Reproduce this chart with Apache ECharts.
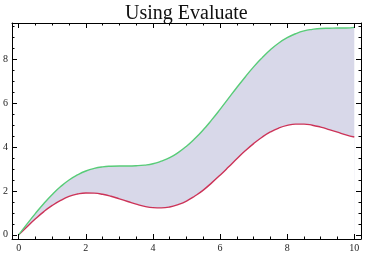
<!DOCTYPE html>
<html><head><meta charset="utf-8">
<script src="https://cdn.jsdelivr.net/npm/echarts@6/dist/echarts.min.js"></script>
<style>html,body{margin:0;padding:0;background:#fff}#c{width:382px;height:264px}</style>
</head><body><div id="c"></div>
<script>
var xs = [0,0.25,0.5,0.75,1,1.25,1.5,1.75,2,2.25,2.5,2.75,3,3.25,3.5,3.75,4,4.25,4.5,4.75,5,5.25,5.5,5.75,6,6.25,6.5,6.75,7,7.25,7.5,7.75,8,8.25,8.5,8.75,9,9.25,9.5,9.75,10];
var upper = [0,0.50,0.98,1.43,1.84,2.20,2.50,2.73,2.91,3.03,3.10,3.13,3.14,3.14,3.15,3.18,3.24,3.36,3.52,3.75,4.04,4.39,4.79,5.24,5.72,6.22,6.72,7.20,7.66,8.07,8.44,8.75,8.99,9.17,9.30,9.37,9.41,9.42,9.43,9.43,9.46];
var lower = [0,0.37,0.73,1.06,1.34,1.57,1.75,1.86,1.91,1.90,1.85,1.76,1.64,1.52,1.40,1.30,1.24,1.23,1.27,1.38,1.54,1.77,2.04,2.37,2.72,3.09,3.47,3.83,4.16,4.45,4.69,4.87,4.99,5.05,5.05,5.00,4.91,4.80,4.68,4.56,4.46];
var xMajor = [0,2,4,6,8,10];
var yMajor = [0,2,4,6,8];
var xMinor = [0,0.5,1,1.5,2,2.5,3,3.5,4,4.5,5,5.5,6,6.5,7,7.5,8,8.5,9,9.5,10];
var yMinor = [0,0.5,1,1.5,2,2.5,3,3.5,4,4.5,5,5.5,6,6.5,7,7.5,8,8.5,9,9.5];

function pairs(a){ return xs.map(function(x,i){return [x,a[i]];}); }

var FONT = 'Liberation Serif';
var XMIN=-0.2, XMAX=10.2, YMIN=-0.19, YMAX=9.66;
function ax(pos, vals, len, showLine, showLabel){
  var isX = (pos==='bottom'||pos==='top');
  return {type:'value', position:pos, min:isX?XMIN:YMIN, max:isX?XMAX:YMAX, z:10,
    splitLine:{show:false},
    axisLine:{show:showLine, onZero:false, lineStyle:{color:'#000', width:1}},
    axisTick:{show:true, inside:true, length:len, customValues:vals, lineStyle:{color:'#000', width:1}},
    axisLabel:{show:showLabel, customValues:vals, margin:4, color:'#222', fontFamily:FONT, fontSize:10}
  };
}
var chart = echarts.init(document.getElementById('c'));
chart.setOption({
  animation:false,
  title:{text:'Using Evaluate', left:120, top:-1, textStyle:{fontFamily:FONT, fontSize:20, fontWeight:'normal', color:'#111'}},
  grid:{left:12, right:21, top:23, bottom:25, containLabel:false},
  xAxis:[ax('bottom',xMajor,5,true,true), ax('bottom',xMinor,2.5,false,false), ax('top',xMajor,5,true,false), ax('top',xMinor,2.5,false,false)],
  yAxis:[ax('left',yMajor,5,true,true), ax('left',yMinor,2.5,false,false), ax('right',yMajor,5,true,false), ax('right',yMinor,2.5,false,false)],
  series:[
    {type:'line', data:pairs(upper), smooth:true, symbol:'none', lineStyle:{opacity:0}, areaStyle:{color:'#d8d8e9', opacity:1, origin:'start'}, silent:true, z:1},
    {type:'line', data:pairs(lower), smooth:true, symbol:'none', lineStyle:{opacity:0}, areaStyle:{color:'#ffffff', opacity:1, origin:'start'}, silent:true, z:2},
    {type:'line', data:pairs(lower), smooth:true, symbol:'none', lineStyle:{color:'#cc3358', width:1.4}, z:3},
    {type:'line', data:pairs(upper), smooth:true, symbol:'none', lineStyle:{color:'#58cc78', width:1.4}, z:4}
  ]
});
</script></body></html>
